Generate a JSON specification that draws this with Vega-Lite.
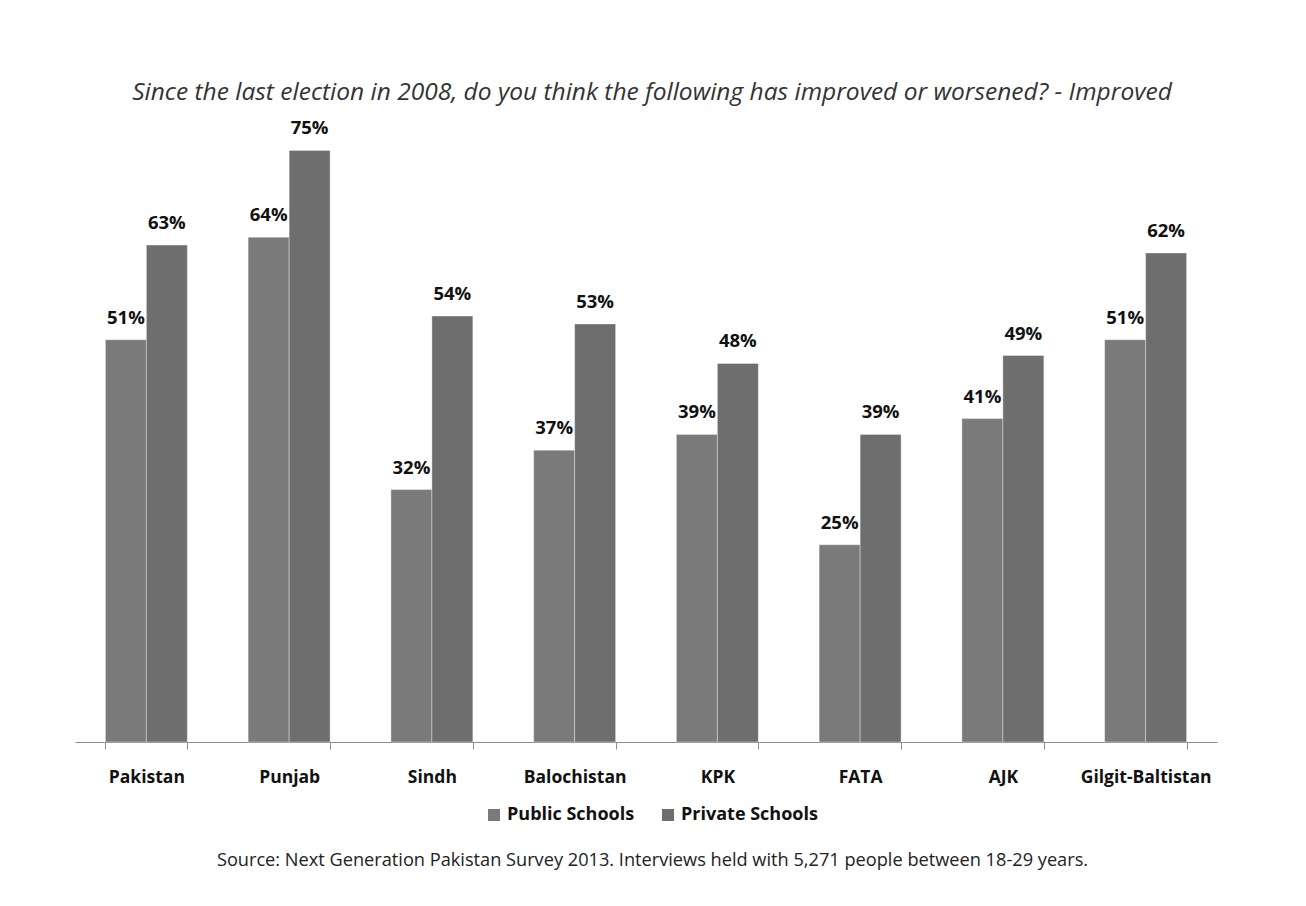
{
  "$schema": "https://vega.github.io/schema/vega-lite/v6.json",
  "autosize": {"type": "none"},
  "width": 1142,
  "height": 631,
  "padding": {"left": 75, "top": 111, "right": 89, "bottom": 164},
  "background": "white",
  "title": {
    "text": "Since the last election in 2008, do you think the following has improved or worsened? - Improved",
    "font": "Open Sans",
    "fontSize": 24.5,
    "fontStyle": "italic",
    "fontWeight": "normal",
    "color": "#333333",
    "anchor": "middle",
    "dx": 6,
    "offset": 6
  },
  "data": {
    "values": [
      {"region": "Pakistan", "type": "Public Schools", "value": 51},
      {"region": "Pakistan", "type": "Private Schools", "value": 63},
      {"region": "Punjab", "type": "Public Schools", "value": 64},
      {"region": "Punjab", "type": "Private Schools", "value": 75},
      {"region": "Sindh", "type": "Public Schools", "value": 32},
      {"region": "Sindh", "type": "Private Schools", "value": 54},
      {"region": "Balochistan", "type": "Public Schools", "value": 37},
      {"region": "Balochistan", "type": "Private Schools", "value": 53},
      {"region": "KPK", "type": "Public Schools", "value": 39},
      {"region": "KPK", "type": "Private Schools", "value": 48},
      {"region": "FATA", "type": "Public Schools", "value": 25},
      {"region": "FATA", "type": "Private Schools", "value": 39},
      {"region": "AJK", "type": "Public Schools", "value": 41},
      {"region": "AJK", "type": "Private Schools", "value": 49},
      {"region": "Gilgit-Baltistan", "type": "Public Schools", "value": 51},
      {"region": "Gilgit-Baltistan", "type": "Private Schools", "value": 62}
    ]
  },
  "transform": [{"calculate": "datum.value + '%'", "as": "label"}],
  "encoding": {
    "x": {
      "field": "region",
      "type": "nominal",
      "sort": null,
      "scale": {"paddingInner": 0.426, "paddingOuter": 0.213},
      "axis": {
        "title": "Source: Next Generation Pakistan Survey 2013. Interviews held with 5,271 people between 18-29 years.",
        "titleFont": "Open Sans",
        "titleFontSize": 18.2,
        "titleFontWeight": "normal",
        "titleColor": "#222222",
        "titlePadding": 66,
        "titleX": 577,
        "labelAngle": 0,
        "labelFont": "Open Sans",
        "labelFontSize": 17.5,
        "labelFontWeight": "bold",
        "labelColor": "#111111",
        "labelPadding": 19,
        "tickBand": "extent",
        "tickSize": 7,
        "tickColor": "#8c8c8c",
        "domainColor": "#8c8c8c",
        "grid": false
      }
    },
    "xOffset": {
      "field": "type",
      "type": "nominal",
      "sort": ["Public Schools", "Private Schools"],
      "scale": {"paddingInner": 0, "paddingOuter": 0}
    },
    "y": {
      "field": "value",
      "type": "quantitative",
      "scale": {"domain": [0, 80], "nice": false},
      "axis": null
    }
  },
  "layer": [
    {
      "mark": {"type": "bar", "stroke": "#ffffff", "strokeWidth": 0.6, "strokeOpacity": 0.6},
      "encoding": {
        "color": {
          "field": "type",
          "type": "nominal",
          "sort": ["Public Schools", "Private Schools"],
          "scale": {"domain": ["Public Schools", "Private Schools"], "range": ["#7a7a7a", "#6e6e6e"]},
          "legend": {
            "title": null,
            "orient": "none",
            "direction": "horizontal",
            "legendX": 410,
            "legendY": 695,
            "symbolType": "square",
            "symbolSize": 144,
            "symbolStrokeWidth": 0,
            "labelFont": "Open Sans",
            "labelFontSize": 18,
            "labelFontWeight": "bold",
            "labelColor": "#111111",
            "labelOffset": 4,
            "columnPadding": 24
          }
        }
      }
    },
    {
      "mark": {"type": "text", "baseline": "alphabetic", "dy": -16, "font": "Open Sans", "fontSize": 18.5, "fontWeight": "bold", "color": "#111111"},
      "encoding": {
        "text": {"field": "label", "type": "nominal"},
        "y": {"field": "value", "type": "quantitative"}
      }
    }
  ],
  "config": {"view": {"stroke": null}}
}
